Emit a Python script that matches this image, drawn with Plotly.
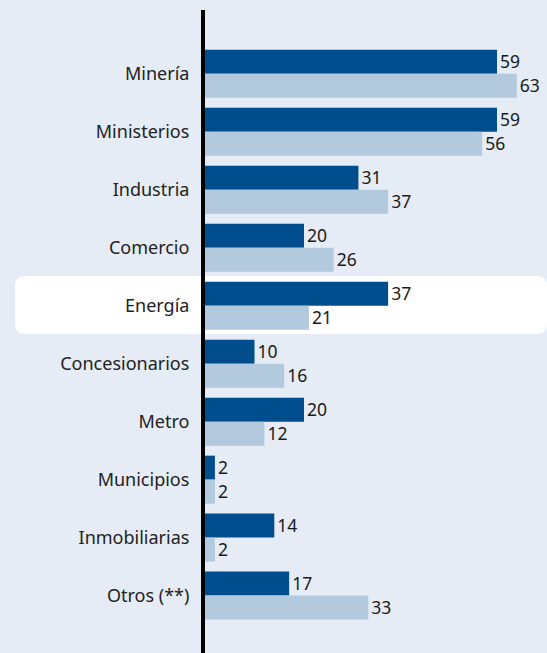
import plotly.graph_objects as go

# categories, top to bottom
sectores = ["Minería", "Ministerios", "Industria", "Comercio", "Energía",
            "Concesionarios", "Metro", "Municipios", "Inmobiliarias", "Otros (**)"]
serie_oscura = [59, 59, 31, 20, 37, 10, 20, 2, 14, 17]
serie_clara = [63, 56, 37, 26, 21, 16, 12, 2, 2, 33]

BG = "#e5ecf5"
OSCURO = "#004d8e"
CLARO = "#b3c9de"

W, H = 547, 653
ML, MT = 205, 10
PW, PH = W - ML, H - MT


def px_to_paper(x, y):
    return (x - ML) / PW, (H - y) / PH


def rounded_rect(x0, y0, x1, y1, r):
    # path in paper coords built from pixel corners
    pts = [
        ("M", x0 + r, y0), ("L", x1 - r, y0), ("Q", x1, y0, x1, y0 + r),
        ("L", x1, y1 - r), ("Q", x1, y1, x1 - r, y1), ("L", x0 + r, y1),
        ("Q", x0, y1, x0, y1 - r), ("L", x0, y0 + r), ("Q", x0, y0, x0 + r, y0),
    ]
    out = []
    for p in pts:
        cmd, coords = p[0], p[1:]
        xy = []
        for i in range(0, len(coords), 2):
            a, b = px_to_paper(coords[i], coords[i + 1])
            xy.append(f"{a:.5f},{b:.5f}")
        out.append(cmd + " " + " ".join(xy))
    return " ".join(out) + " Z"


fig = go.Figure()
fig.add_trace(go.Bar(y=sectores, x=serie_oscura, orientation="h",
                     marker=dict(color=OSCURO, line=dict(width=0)),
                     text=serie_oscura, textposition="outside", cliponaxis=False))
fig.add_trace(go.Bar(y=sectores, x=serie_clara, orientation="h",
                     marker=dict(color=CLARO, line=dict(width=0)),
                     text=serie_clara, textposition="outside", cliponaxis=False))

# white highlight behind Energía
fig.add_shape(type="path", xref="paper", yref="paper", layer="below",
              path=rounded_rect(15, 276, 547, 334, 10),
              fillcolor="white", line=dict(width=0))

fig.update_traces(textfont=dict(size=19, color="#1a1a1a", family="Noto Sans"))

fig.update_layout(
    width=W, height=H,
    margin=dict(l=ML, r=0, t=MT, b=0),
    paper_bgcolor=BG, plot_bgcolor="rgba(0,0,0,0)",
    barmode="group", bargap=0.172, bargroupgap=0,
    showlegend=False,
    font=dict(family="Noto Sans", color="#222222"),
)
fig.update_xaxes(range=[0, 69.1], visible=False, fixedrange=True)
fig.update_yaxes(range=[9.99, -1.10], showgrid=False, zeroline=False,
                 showline=True, linecolor="black", linewidth=4,
                 ticks="", ticklabelstandoff=8,
                 tickfont=dict(size=18, color="#222222", family="Noto Sans"))

# drop the default page margin so the chart fills the window
fig.write_html("out.html", config={"displayModeBar": False},
               post_script="document.body.style.margin='0';")
